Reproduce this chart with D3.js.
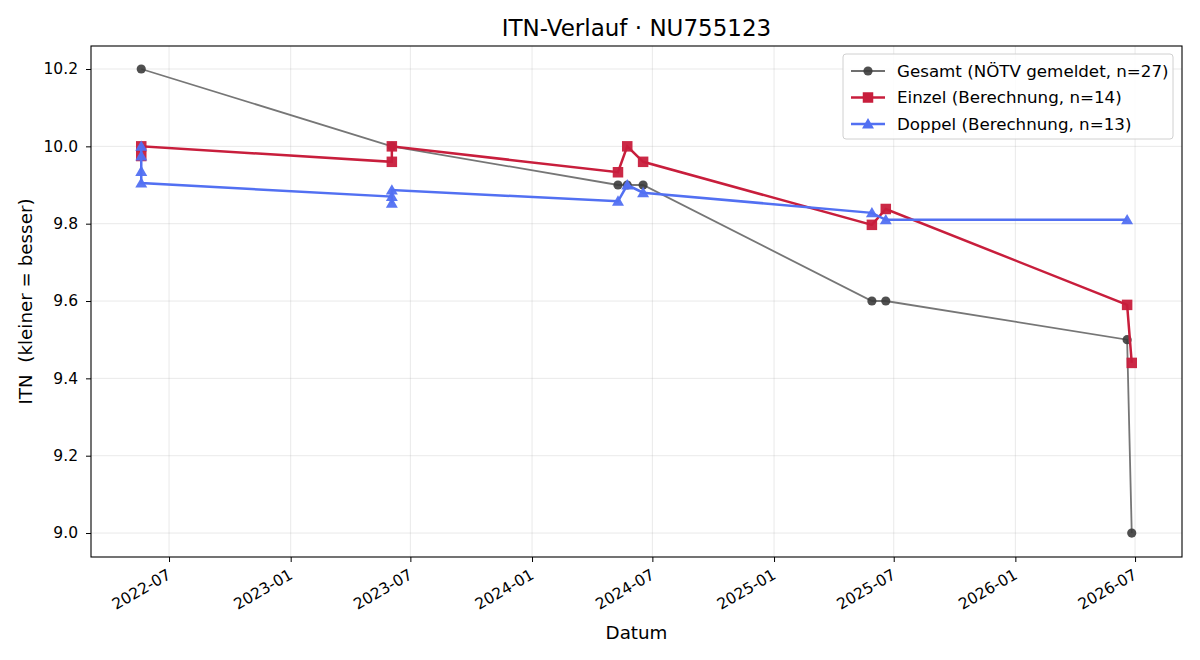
<!DOCTYPE html>
<html>
<head>
<meta charset="utf-8">
<script src="https://cdn.jsdelivr.net/npm/d3@7"></script>
<style>
  html, body { margin: 0; padding: 0; background: #fff; }
  svg text { font-family: "DejaVu Sans", sans-serif; fill: #000; }
</style>
</head>
<body>
<svg id="chart" width="1200" height="660"></svg>
<script>
// ---- data ----
const gesamtDates = ["2022-05-20","2023-06-03","2024-05-10","2024-05-24","2024-06-17","2025-05-29","2025-06-19","2026-06-19","2026-06-26"];
const gesamtValues = [10.2, 10.0, 9.9, 9.9, 9.9, 9.6, 9.6, 9.5, 9.0];

const einzelDates = ["2022-05-20","2022-05-20","2023-06-03","2023-06-03","2024-05-10","2024-05-24","2024-06-17","2025-05-29","2025-06-19","2026-06-19","2026-06-26"];
const einzelValues = [9.975, 10.0, 9.96, 10.0, 9.933, 10.0, 9.96, 9.797, 9.838, 9.59, 9.44];

const doppelDates = ["2022-05-20","2022-05-20","2022-05-20","2022-05-20","2023-06-03","2023-06-03","2023-06-03","2024-05-10","2024-05-24","2024-06-17","2025-05-29","2025-06-19","2026-06-19"];
const doppelValues = [10.0, 9.975, 9.935, 9.905, 9.87, 9.853, 9.887, 9.858, 9.9, 9.88, 9.828, 9.81, 9.81];

const seriesLabels = ["Gesamt (NÖTV gemeldet, n=27)", "Einzel (Berechnung, n=14)", "Doppel (Berechnung, n=13)"];
const xTickLabels = ["2022-07","2023-01","2023-07","2024-01","2024-07","2025-01","2025-07","2026-01","2026-07"];
const yTickValues = [9.0, 9.2, 9.4, 9.6, 9.8, 10.0, 10.2];
const titleText = "ITN-Verlauf · NU755123";
const xLabelText = "Datum";
const yLabelText = "ITN  (kleiner = besser)";

// ---- layout ----
const svg = d3.select("#chart");
const L = 91, R = 1182, T = 46, B = 557;
const parse = d3.timeParse("%Y-%m-%d");
const parseTick = d3.timeParse("%Y-%m");

const x = d3.scaleTime()
  .domain([parse("2022-03-05"), parse("2026-09-10")])
  .range([L, R]);
const y = d3.scaleLinear()
  .domain([8.938, 10.2595])
  .range([B, T]);

const mk = (ds, vs) => ds.map((d, i) => ({ date: parse(d), value: vs[i] }));
const gesamt = mk(gesamtDates, gesamtValues);
const einzel = mk(einzelDates, einzelValues);
const doppel = mk(doppelDates, doppelValues);

const xTicks = xTickLabels.map(parseTick);

// grid
const grid = svg.append("g");
grid.selectAll(".gx").data(xTicks).enter().append("line")
  .attr("x1", d => x(d)).attr("x2", d => x(d))
  .attr("y1", T).attr("y2", B)
  .attr("stroke", "#b0b0b0").attr("stroke-opacity", 0.35).attr("stroke-width", 0.8);
grid.selectAll(".gy").data(yTickValues).enter().append("line")
  .attr("x1", L).attr("x2", R)
  .attr("y1", d => y(d)).attr("y2", d => y(d))
  .attr("stroke", "#b0b0b0").attr("stroke-opacity", 0.35).attr("stroke-width", 0.8);

// axes
const xAxis = d3.axisBottom(x).tickValues(xTicks).tickFormat(d3.timeFormat("%Y-%m")).tickSizeOuter(0).tickSize(5).tickPadding(4);
const gx = svg.append("g").attr("transform", `translate(0,${B})`).call(xAxis);
gx.select(".domain").remove();
gx.selectAll(".tick line").attr("stroke", "#000").attr("stroke-width", 1);
gx.selectAll(".tick text")
  .attr("font-size", 15.5)
  .attr("text-anchor", "end")
  .attr("dy", null)
  .attr("y", 0)
  .attr("transform", "translate(-3,11) rotate(-30)")
  .attr("dominant-baseline", "hanging");

const yAxis = d3.axisLeft(y).tickValues(yTickValues).tickFormat(d3.format(".1f")).tickSizeOuter(0).tickSize(5).tickPadding(8);
const gy = svg.append("g").attr("transform", `translate(${L},0)`).call(yAxis);
gy.select(".domain").remove();
gy.selectAll(".tick line").attr("stroke", "#000").attr("stroke-width", 1);
gy.selectAll(".tick text").attr("font-size", 15.5);

// frame
svg.append("rect").attr("x", L).attr("y", T).attr("width", R - L).attr("height", B - T)
  .attr("fill", "none").attr("stroke", "#000").attr("stroke-width", 1.1);

// lines
const line = d3.line().x(d => x(d.date)).y(d => y(d.value));

const colGray = "#6f6f6f", colGrayDot = "#3c3c3c";
const colRed = "#c81e3c", colBlue = "#5270f2";

svg.append("path").datum(gesamt).attr("d", line)
  .attr("fill", "none").attr("stroke", colGray).attr("stroke-width", 1.8).attr("stroke-opacity", 0.95);
svg.selectAll(".gd").data(gesamt).enter().append("circle")
  .attr("cx", d => x(d.date)).attr("cy", d => y(d.value)).attr("r", 4.6)
  .attr("fill", colGrayDot).attr("fill-opacity", 0.9);

svg.append("path").datum(einzel).attr("d", line)
  .attr("fill", "none").attr("stroke", colRed).attr("stroke-width", 2.5);
const sq = 10.5;
svg.selectAll(".ed").data(einzel).enter().append("rect")
  .attr("x", d => x(d.date) - sq / 2).attr("y", d => y(d.value) - sq / 2)
  .attr("width", sq).attr("height", sq)
  .attr("fill", colRed).attr("fill-opacity", 0.95);

svg.append("path").datum(doppel).attr("d", line)
  .attr("fill", "none").attr("stroke", colBlue).attr("stroke-width", 2.5);
const tri = d3.symbol().type(d3.symbolTriangle).size(62);
svg.selectAll(".dd").data(doppel).enter().append("path")
  .attr("d", tri)
  .attr("transform", d => `translate(${x(d.date)},${y(d.value) + 1})`)
  .attr("fill", colBlue).attr("fill-opacity", 0.95);

// title & labels
svg.append("text").attr("x", (L + R) / 2).attr("y", 36).attr("text-anchor", "middle")
  .attr("font-size", 23).text(titleText);
svg.append("text").attr("x", (L + R) / 2).attr("y", 639).attr("text-anchor", "middle")
  .attr("font-size", 18.3).text(xLabelText);
svg.append("text").attr("transform", `translate(32,${(T + B) / 2}) rotate(-90)`)
  .attr("text-anchor", "middle").style("white-space", "pre")
  .attr("font-size", 18.3).text(yLabelText);

// legend
const lg = svg.append("g");
lg.append("rect").attr("x", 843).attr("y", 54).attr("width", 330).attr("height", 85)
  .attr("rx", 3).attr("fill", "#fff").attr("fill-opacity", 0.85)
  .attr("stroke", "#d0d0d0").attr("stroke-width", 1);
const rows = [
  { label: seriesLabels[0], color: colGray, w: 1.8, kind: "circle" },
  { label: seriesLabels[1], color: colRed, w: 2.5, kind: "square" },
  { label: seriesLabels[2], color: colBlue, w: 2.5, kind: "tri" }
];
rows.forEach((r, i) => {
  const cy = 71 + i * 26.5;
  lg.append("line").attr("x1", 851).attr("x2", 885).attr("y1", cy).attr("y2", cy)
    .attr("stroke", r.color).attr("stroke-width", r.w);
  if (r.kind === "circle") {
    lg.append("circle").attr("cx", 868).attr("cy", cy).attr("r", 4.6).attr("fill", colGrayDot).attr("fill-opacity", 0.9);
  } else if (r.kind === "square") {
    lg.append("rect").attr("x", 868 - sq / 2).attr("y", cy - sq / 2).attr("width", sq).attr("height", sq).attr("fill", r.color);
  } else {
    lg.append("path").attr("d", tri).attr("transform", `translate(868,${cy + 1})`).attr("fill", r.color);
  }
  lg.append("text").attr("x", 897).attr("y", cy).attr("dy", "0.35em")
    .attr("font-size", 16.7).text(r.label);
});
</script>
</body>
</html>
